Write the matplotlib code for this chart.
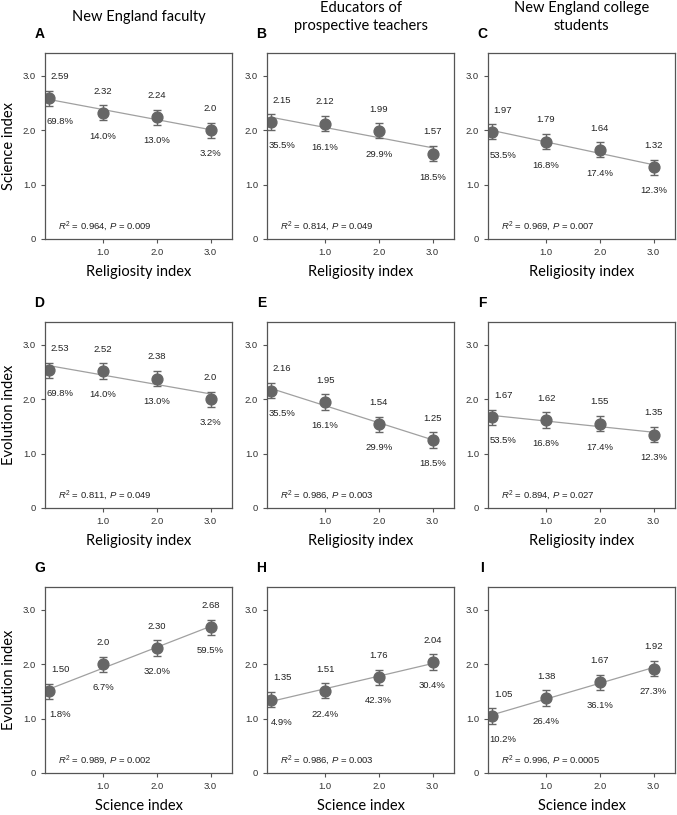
import numpy as np
import matplotlib.pyplot as plt

plt.rcParams['font.family'] = ['Liberation Sans', 'DejaVu Sans']
plt.rcParams['mathtext.fontset'] = 'custom'
plt.rcParams['mathtext.rm'] = 'Liberation Sans'
plt.rcParams['mathtext.it'] = 'Liberation Sans:italic'

# column titles / panel letters
groups = ['New England faculty', 'Educators of\nprospective teachers', 'New England college\nstudents']
letters = ['A', 'B', 'C', 'D', 'E', 'F', 'G', 'H', 'I']
xlabels = ['Religiosity index', 'Religiosity index', 'Science index']
ylabels = ['Science index', 'Evolution index', 'Evolution index']

x = [0, 1, 2, 3]
xtick_labels = ['1.0', '2.0', '3.0']
ytick_labels = ['0', '1.0', '2.0', '3.0']

# means (as printed), row by row
science_vs_relig = [['2.59', '2.32', '2.24', '2.0'],
                    ['2.15', '2.12', '1.99', '1.57'],
                    ['1.97', '1.79', '1.64', '1.32']]
evolution_vs_relig = [['2.53', '2.52', '2.38', '2.0'],
                      ['2.16', '1.95', '1.54', '1.25'],
                      ['1.67', '1.62', '1.55', '1.35']]
evolution_vs_science = [['1.50', '2.0', '2.30', '2.68'],
                        ['1.35', '1.51', '1.76', '2.04'],
                        ['1.05', '1.38', '1.67', '1.92']]

# share of respondents in each group
pct_relig = [['69.8%', '14.0%', '13.0%', '3.2%'],
             ['35.5%', '16.1%', '29.9%', '18.5%'],
             ['53.5%', '16.8%', '17.4%', '12.3%']]
pct_science = [['1.8%', '6.7%', '32.0%', '59.5%'],
               ['4.9%', '22.4%', '42.3%', '30.4%'],
               ['10.2%', '26.4%', '36.1%', '27.3%']]

r2 = [['0.964', '0.814', '0.969'],
      ['0.811', '0.986', '0.894'],
      ['0.989', '0.986', '0.996']]
pvals = [['0.009', '0.049', '0.007'],
         ['0.049', '0.003', '0.027'],
         ['0.002', '0.003', '0.0005']]

err = 0.14  # approx. SE bars

values = [science_vs_relig, evolution_vs_relig, evolution_vs_science]
pcts = [pct_relig, pct_relig, pct_science]

W, H = 677, 815
lefts = [45, 267, 488]
tops = [53, 322, 587]
aw, ah = 187, 186

fig = plt.figure(figsize=(W / 100, H / 100), dpi=100)

for r in range(3):
    for c in range(3):
        ax = fig.add_axes([lefts[c] / W, 1 - (tops[r] + ah) / H, aw / W, ah / H])
        labs = values[r][c]
        y = np.array([float(s) for s in labs])

        # regression line
        slope, icpt = np.polyfit(x, y, 1)
        xx = np.array([0, 3])
        ax.plot(xx, icpt + slope * xx, color='#a0a0a0', lw=0.9, zorder=1)

        ax.errorbar(x, y, yerr=err, fmt='o', ms=7.8, color='#666666', ecolor='#666666',
                    elinewidth=1, capsize=3, capthick=1, zorder=2)

        for i in range(4):
            dx = 0.2 if i == 0 else 0
            ax.text(x[i] + dx, y[i] + 0.4, labs[i], ha='center', va='center',
                    fontsize=6.8, color='#222222')
            ax.text(x[i] + dx, y[i] - 0.43, pcts[r][c][i], ha='center', va='center',
                    fontsize=6.8, color='#222222')

        ax.text(0.07, 0.07, '$R^2$ = %s, $P$ = %s' % (r2[r][c], pvals[r][c]),
                transform=ax.transAxes, fontsize=6.8, color='#222222', va='center')

        ax.set_xlim(-0.08, 3.4)
        ax.set_ylim(0, 3.42)
        ax.set_xticks([1, 2, 3])
        ax.set_xticklabels(xtick_labels)
        ax.set_yticks([0, 1, 2, 3])
        ax.set_yticklabels(ytick_labels)
        ax.tick_params(direction='out', length=3, width=0.8, colors='#555555',
                       labelsize=6.8, labelcolor='#333333')
        for s in ax.spines.values():
            s.set_color('#555555')
            s.set_linewidth(0.9)

        ax.set_xlabel(xlabels[r], family='Lato', fontsize=10.5, labelpad=6)
        if c == 0:
            ax.set_ylabel(ylabels[r], family='Lato', fontsize=10.5, labelpad=5)

        ax.text(-0.03, 1.1, letters[r * 3 + c], transform=ax.transAxes,
                ha='center', va='center', fontsize=10, fontweight='bold')
        if r == 0:
            ax.text(0.5, 1.195, groups[c], transform=ax.transAxes, ha='center',
                    va='center', family='Lato', fontsize=10.5, linespacing=1.35)

fig.savefig('out.png', dpi=100)
